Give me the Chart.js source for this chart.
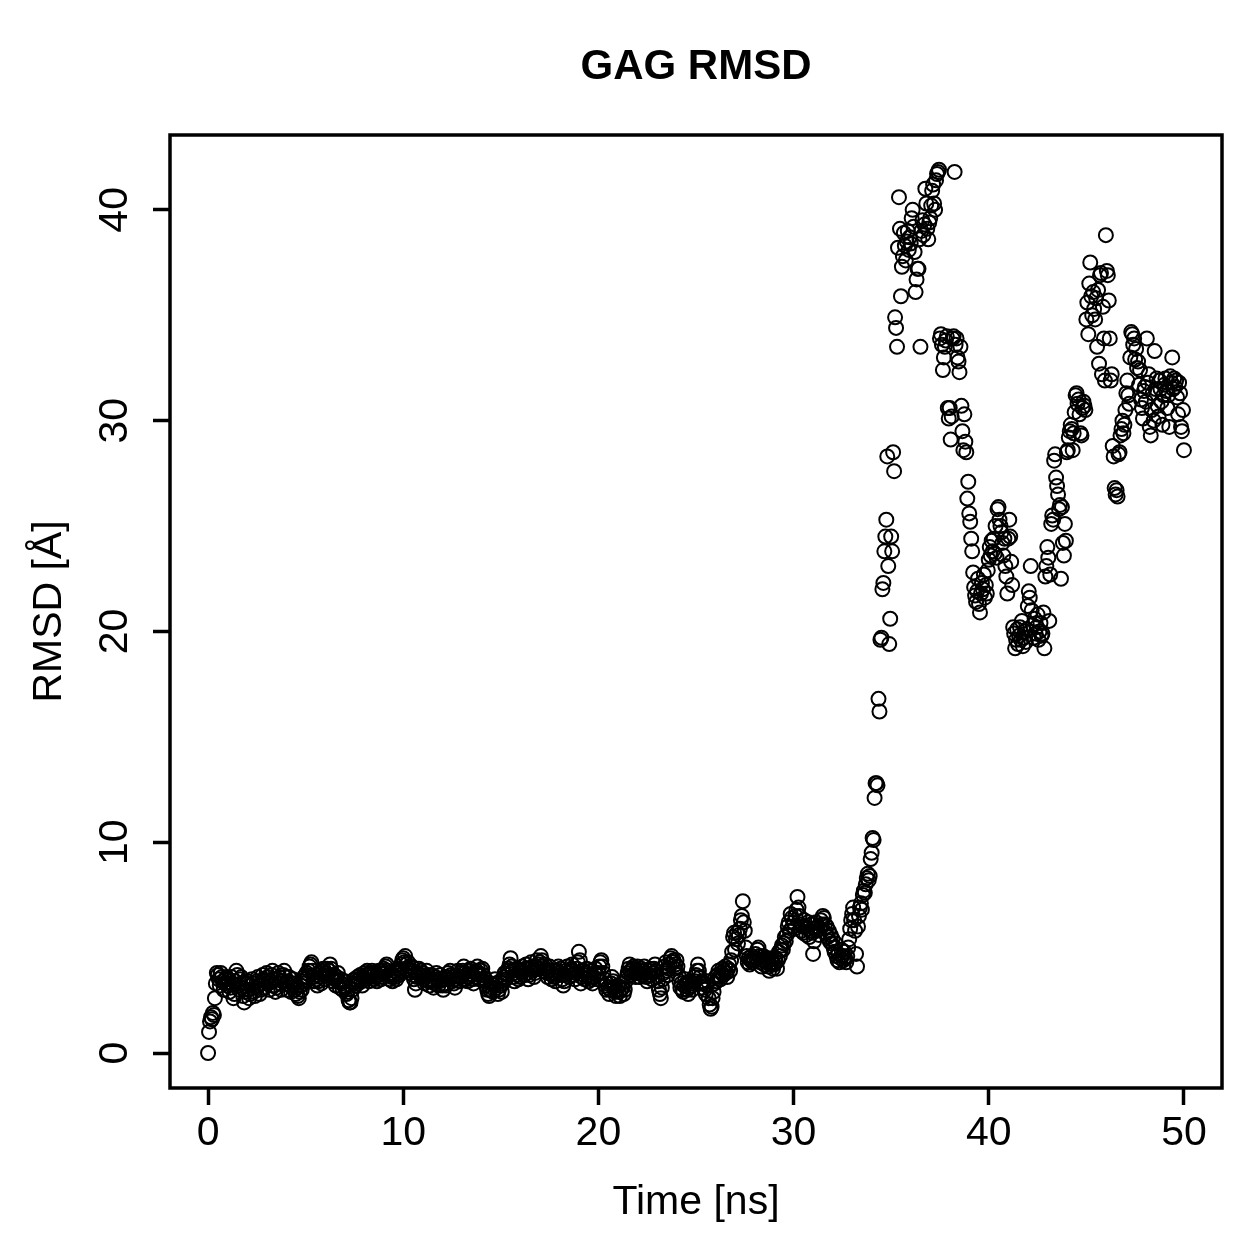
<!DOCTYPE html>
<html>
<head>
<meta charset="utf-8">
<title>GAG RMSD</title>
<script src="https://cdn.jsdelivr.net/npm/chart.js@4.4.1/dist/chart.umd.min.js"></script>
<style>
  html, body { margin: 0; padding: 0; background: #fff; }
  #grafico { display: block; }
</style>
</head>
<body>
<canvas id="grafico" width="1259" height="1259"></canvas>
<script>
// Paso entre frames de la trayectoria (ns)
const TIME_STEP = 0.05;

// RMSD (Å) por frame, una fila por ns (20 frames)
const rmsd = [
  0.0, 1.0, 1.5, 1.7, 1.6, 1.9, 1.8, 2.6, 3.3, 3.8, 3.7, 3.5, 3.2, 3.8, 3.6, 3.4, 3.0, 3.3, 3.5, 3.6,
  3.2, 3.5, 2.9, 3.1, 3.6, 3.3, 2.6, 2.8, 3.4, 3.9, 3.7, 3.2, 3.0, 3.5, 3.6, 3.1, 2.7, 2.4, 2.9, 3.3,
  3.4, 3.0, 2.6, 2.8, 3.2, 3.5, 3.3, 2.9, 2.7, 3.1, 3.4, 3.6, 3.2, 2.8, 3.0, 3.3, 3.7, 3.5, 3.1, 3.4,
  3.8, 3.6, 3.3, 3.0, 3.4, 3.7, 3.9, 3.5, 3.2, 2.9, 3.1, 3.5, 3.8, 3.6, 3.3, 3.0, 3.4, 3.7, 3.9, 3.6,
  3.3, 3.0, 3.4, 3.6, 3.2, 2.9, 3.1, 3.5, 3.3, 3.0, 2.8, 3.1, 2.7, 2.6, 2.9, 3.2, 3.0, 3.4, 3.6, 3.3,
  3.5, 3.8, 3.6, 3.9, 4.1, 4.2, 4.3, 3.9, 3.6, 3.4, 3.7, 3.5, 3.2, 3.4, 3.8, 3.6, 3.3, 3.9, 4.0, 3.7,
  3.5, 3.8, 4.0, 3.7, 3.9, 4.2, 4.0, 3.6, 3.4, 3.7, 3.5, 3.2, 3.6, 3.8, 3.4, 3.1, 3.5, 3.3, 3.0, 3.2,
  3.4, 3.1, 2.8, 2.9, 2.5, 2.4, 2.4, 2.6, 3.0, 3.3, 3.5, 3.2, 3.4, 3.6, 3.3, 3.5, 3.7, 3.4, 3.2, 3.6,
  3.8, 3.5, 3.7, 3.9, 3.6, 3.4, 3.8, 3.6, 3.9, 3.7, 3.5, 3.8, 3.6, 3.4, 3.7, 3.9, 3.8, 3.5, 3.6, 3.9,
  4.0, 3.8, 4.1, 4.2, 3.9, 3.7, 3.5, 3.8, 3.6, 3.4, 3.7, 3.9, 3.6, 3.5, 3.8, 4.0, 3.7, 3.9, 4.2, 4.4,
  4.5, 4.3, 4.6, 4.2, 4.0, 4.3, 4.1, 3.8, 3.9, 4.1, 3.7, 3.5, 3.0, 3.3, 3.6, 3.8, 4.0, 3.7, 3.9, 3.6,
  3.8, 3.5, 3.3, 3.6, 3.9, 3.7, 3.4, 3.2, 3.5, 3.7, 3.4, 3.1, 3.3, 3.6, 3.8, 3.5, 3.2, 3.4, 3.7, 3.5,
  3.2, 3.0, 3.3, 3.5, 3.2, 3.6, 3.8, 3.5, 3.9, 3.7, 3.4, 3.6, 3.3, 3.1, 3.5, 3.7, 3.9, 3.6, 3.4, 3.8,
  3.6, 3.9, 4.1, 3.8, 3.5, 3.7, 3.4, 3.6, 3.9, 4.0, 3.7, 3.5, 3.3, 3.6, 3.8, 3.9, 4.1, 3.8, 3.5, 3.7,
  3.9, 4.0, 3.7, 3.4, 3.5, 3.2, 3.0, 2.8, 2.7, 3.0, 3.3, 3.1, 2.9, 3.2, 3.5, 3.3, 3.1, 2.8, 3.0, 3.4,
  3.2, 2.9, 3.3, 3.6, 3.8, 3.5, 3.7, 3.9, 4.0, 4.2, 4.5, 4.1, 3.9, 3.6, 3.4, 3.8, 4.0, 3.7, 3.5, 3.9,
  3.6, 3.8, 4.1, 3.9, 3.7, 4.0, 4.2, 3.8, 3.5, 3.7, 4.0, 4.3, 4.1, 3.9, 3.6, 3.8, 4.1, 4.4, 4.2, 4.0,
  4.3, 4.6, 4.4, 4.1, 3.9, 4.2, 4.0, 3.8, 3.6, 3.9, 4.1, 3.8, 3.5, 3.7, 3.9, 3.6, 3.4, 3.7, 3.9, 4.1,
  3.8, 4.0, 3.7, 3.5, 3.2, 3.4, 3.7, 3.9, 4.1, 3.8, 3.6, 3.9, 4.0, 4.2, 3.9, 3.7, 3.5, 3.8, 4.0, 4.3,
  4.8, 4.4, 3.3, 3.6, 3.9, 3.7, 3.5, 3.8, 4.0, 3.7, 3.4, 3.6, 3.9, 3.5, 3.3, 3.6, 3.8, 4.0, 3.7, 3.5,
  3.8, 4.1, 4.3, 4.4, 4.1, 3.8, 3.5, 3.2, 3.0, 3.3, 3.1, 2.8, 3.0, 3.3, 3.6, 3.4, 3.1, 2.9, 2.7, 3.0,
  3.2, 2.9, 2.7, 3.0, 3.3, 3.1, 2.8, 3.0, 3.4, 3.6, 3.8, 4.0, 4.2, 3.9, 3.7, 4.0, 4.1, 3.8, 3.6, 3.9,
  4.1, 3.8, 3.6, 3.9, 4.0, 3.7, 3.9, 4.1, 3.8, 3.6, 3.4, 3.7, 3.9, 4.0, 3.7, 3.5, 3.8, 4.0, 4.2, 3.9,
  3.6, 3.4, 3.0, 2.8, 2.6, 3.1, 3.5, 3.8, 4.1, 4.3, 3.9, 3.7, 4.0, 4.2, 4.5, 4.6, 4.3, 4.4, 4.0, 4.2,
  4.4, 4.1, 3.7, 3.4, 3.1, 3.3, 3.0, 2.9, 3.2, 3.5, 3.3, 3.0, 2.8, 3.1, 3.4, 3.2, 3.0, 3.3, 3.6, 3.4,
  3.7, 3.9, 4.2, 3.9, 3.6, 3.3, 3.4, 3.1, 3.3, 3.0, 2.8, 3.2, 3.4, 2.6, 2.3, 2.1, 2.2, 2.6, 2.9, 3.3,
  3.6, 3.4, 3.7, 3.9, 3.6, 3.5, 3.8, 4.0, 3.7, 3.9, 4.1, 3.8, 3.6, 4.0, 4.2, 3.9, 4.4, 4.8, 5.5, 5.7,
  4.9, 5.4, 5.7, 5.2, 5.6, 5.9, 6.3, 6.5, 7.2, 6.2, 5.8, 5.0, 4.6, 4.3, 4.5, 4.2, 4.4, 4.6, 4.3, 4.5,
  4.4, 4.7, 4.5, 4.9, 5.0, 4.6, 4.3, 4.1, 4.4, 4.6, 4.2, 4.4, 4.5, 4.3, 4.1, 3.9, 4.2, 4.5, 4.3, 4.0,
  4.2, 4.5, 4.3, 4.0, 4.4, 4.8, 4.6, 4.9, 5.1, 4.9, 5.2, 5.5, 5.3, 5.6, 6.0, 6.2, 5.8, 6.6, 6.4, 6.0,
  6.2, 5.9, 6.5, 6.8, 7.4, 6.9, 6.5, 6.1, 5.8, 6.0, 5.7, 6.3, 6.0, 5.6, 5.9, 6.2, 5.5, 5.8, 6.1, 5.7,
  4.7, 5.3, 5.9, 6.2, 5.8, 6.0, 5.6, 5.9, 6.3, 6.1, 6.5, 6.4, 6.1, 5.7, 6.0, 5.5, 5.8, 5.3, 5.6, 5.2,
  5.4, 5.0, 4.8, 5.2, 4.6, 4.4, 4.7, 4.3, 4.5, 4.9, 4.6, 4.4, 4.8, 4.5, 4.3, 4.6, 5.0, 5.4, 5.9, 6.3,
  6.6, 6.9, 6.3, 5.8, 4.7, 4.1, 6.0, 6.5, 6.9, 7.1, 6.8, 7.5, 7.7, 7.6, 8.0, 8.3, 8.5, 8.2, 8.4, 9.2,
  9.5, 10.2, 10.1, 12.1, 12.8, 12.8, 12.7, 16.8, 16.2, 19.6, 19.7, 22.0, 22.3, 23.8, 24.5, 25.3, 28.3, 23.1, 19.4, 20.6,
  24.5, 23.8, 28.5, 27.6, 34.9, 34.4, 33.5, 38.2, 40.6, 39.1, 35.9, 37.3, 37.8, 38.9, 38.3, 37.6, 38.5, 39.0, 38.1, 38.7,
  38.4, 39.6, 40.0, 39.2, 38.0, 36.1, 36.7, 37.2, 37.2, 38.6, 33.5, 39.0, 39.5, 38.8, 39.3, 41.0, 40.3, 39.1, 38.6, 39.4,
  39.6, 40.2, 40.9, 41.2, 40.3, 40.0, 41.4, 41.7, 41.8, 41.9, 33.9, 34.1, 33.6, 32.4, 33.0, 33.5, 33.8, 34.0, 30.6, 30.1,
  30.6, 29.1, 30.2, 33.9, 34.0, 41.8, 33.6, 33.9, 33.0, 32.8, 32.3, 33.5, 30.7, 29.5, 28.6, 30.3, 29.0, 28.5, 26.3, 27.1,
  25.6, 25.2, 24.4, 23.8, 22.8, 22.1, 21.7, 21.4, 21.9, 22.5, 21.3, 20.9, 21.8, 22.3, 22.0, 22.7, 21.6, 22.2, 21.8, 22.9,
  23.4, 24.0, 23.6, 24.3, 23.8, 24.4, 23.7, 25.0, 23.5, 25.8, 25.9, 25.3, 25.0, 24.7, 24.2, 23.6, 24.4, 23.1, 22.6, 21.8,
  24.4, 25.3, 24.5, 23.3, 22.2, 20.2, 19.9, 19.2, 19.6, 20.1, 19.4, 19.8, 20.2, 19.6, 20.5, 19.3, 19.7, 20.0, 19.5, 20.1,
  21.2, 21.9, 21.6, 23.1, 21.0, 20.3, 19.7, 20.6, 19.9, 20.2, 20.8, 19.6, 20.0, 20.4, 19.8, 19.9, 20.9, 19.2, 22.6, 23.1,
  24.0, 23.5, 20.5, 22.7, 25.1, 25.5, 25.3, 28.1, 28.4, 27.3, 26.9, 26.5, 25.8, 26.0, 22.5, 25.9, 24.2, 23.6, 25.1, 24.3,
  28.5, 28.6, 29.2, 29.5, 29.8, 29.6, 28.6, 29.4, 30.4, 31.2, 31.3, 30.8, 31.0, 30.3, 29.4, 29.3, 30.6, 30.9, 30.7, 30.5,
  34.8, 35.6, 34.1, 36.5, 37.5, 35.9, 35.0, 36.1, 35.3, 34.8, 35.8, 33.5, 36.2, 32.7, 36.9, 37.0, 32.2, 35.4, 33.9, 31.9,
  38.8, 37.1, 36.9, 35.7, 33.9, 31.9, 32.2, 28.8, 28.3, 26.8, 26.5, 26.7, 26.4, 28.4, 28.5, 29.3, 29.6, 30.0, 29.4, 29.8,
  30.5, 31.3, 31.9, 31.2, 30.8, 33.0, 34.2, 34.1, 33.6, 33.9, 32.9, 33.4, 32.5, 32.8, 31.7, 32.4, 31.0, 30.6, 30.1, 31.4,
  31.6, 30.9, 33.9, 31.8, 32.2, 29.7, 29.3, 30.5, 31.3, 30.0, 33.3, 31.5, 32.0, 30.7, 30.2, 31.9, 31.5, 30.9, 29.8, 31.2,
  31.7, 32.0, 31.4, 30.6, 31.2, 29.7, 32.1, 31.8, 33.0, 31.5, 32.0, 31.6, 31.9, 31.1, 30.3, 31.8, 31.3, 29.7, 29.5, 30.5,
  28.6
];

// Ejes
const xTicks = [0, 10, 20, 30, 40, 50];
const yTicks = [0, 10, 20, 30, 40];
const xRange = [-1.95, 51.95];
const yRange = [-1.66, 43.55];

const fuente = '"Liberation Sans", Arial, Helvetica, sans-serif';

// Marco alrededor del área de datos (como bty="o" en R)
const marco = {
    id: 'marco',
    afterDatasetsDraw(chart) {
        const { ctx, chartArea: a } = chart;
        ctx.save();
        ctx.strokeStyle = '#000';
        ctx.lineWidth = 3.5;
        ctx.strokeRect(a.left, a.top, a.right - a.left, a.bottom - a.top);
        ctx.restore();
    }
};

function crearGrafico(canvasId) {
    const puntos = rmsd.map((v, i) => ({ x: +(i * TIME_STEP).toFixed(2), y: v }));
    const ctx = document.getElementById(canvasId).getContext('2d');
    return new Chart(ctx, {
        type: 'scatter',
        data: {
            datasets: [{
                data: puntos,
                borderColor: '#000',
                backgroundColor: 'rgba(0,0,0,0)',
                pointRadius: 7,
                pointHoverRadius: 7,
                pointBorderWidth: 2
            }]
        },
        options: {
            responsive: false,
            animation: false,
            devicePixelRatio: 1,
            events: [],
            layout: { padding: { top: 0, right: 37, bottom: 0, left: 0 } },
            plugins: {
                legend: { display: false },
                tooltip: { enabled: false },
                title: {
                    display: true,
                    text: 'GAG RMSD',
                    fullSize: false,
                    color: '#000',
                    font: { family: fuente, size: 42, weight: 'bold' },
                    padding: { top: 42.3, bottom: 42.3 }
                }
            },
            scales: {
                x: {
                    type: 'linear',
                    min: xRange[0],
                    max: xRange[1],
                    afterBuildTicks: s => { s.ticks = xTicks.map(v => ({ value: v })); },
                    afterFit: s => { s.height = 171; },
                    grid: { drawOnChartArea: false, drawTicks: true, tickLength: 17, tickWidth: 3.5, tickColor: '#000' },
                    border: { display: false },
                    ticks: { color: '#000', font: { family: fuente, size: 41 }, padding: 4, maxRotation: 0, autoSkip: false },
                    title: {
                        display: true, text: 'Time [ns]', color: '#000',
                        font: { family: fuente, size: 41 }, padding: { top: 0, bottom: 32 }
                    }
                },
                y: {
                    type: 'linear',
                    min: yRange[0],
                    max: yRange[1],
                    afterBuildTicks: s => { s.ticks = yTicks.map(v => ({ value: v })); },
                    afterFit: s => { s.width = 170; },
                    grid: { drawOnChartArea: false, drawTicks: true, tickLength: 17, tickWidth: 3.5, tickColor: '#000' },
                    border: { display: false },
                    ticks: {
                        color: '#000', font: { family: fuente, size: 41 }, padding: 15,
                        minRotation: 90, maxRotation: 90, crossAlign: 'center', autoSkip: false
                    },
                    title: {
                        display: true, text: 'RMSD [Å]', color: '#000',
                        font: { family: fuente, size: 41 }, padding: { top: 25, bottom: 0 }
                    }
                }
            }
        },
        plugins: [marco]
    });
}

window.addEventListener('load', () => {
    crearGrafico('grafico');
});
</script>
</body>
</html>
